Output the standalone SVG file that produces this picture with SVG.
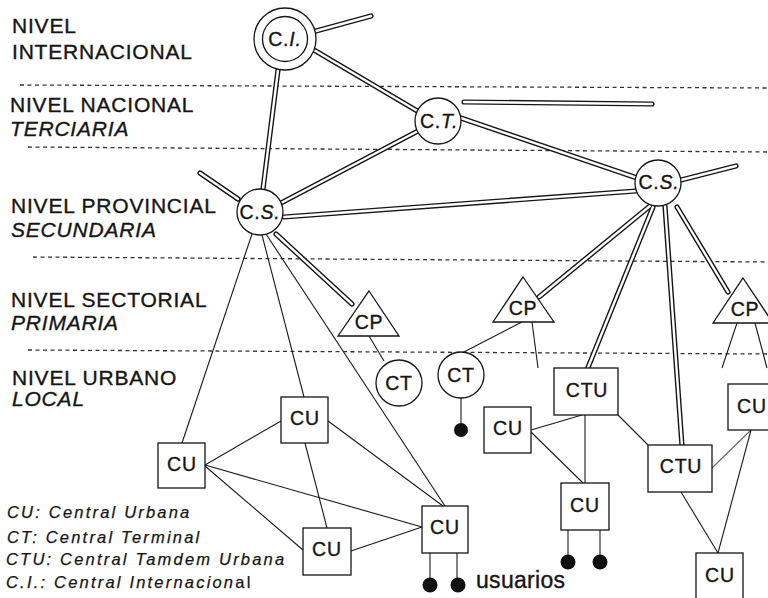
<svg xmlns="http://www.w3.org/2000/svg" xmlns:xlink="http://www.w3.org/1999/xlink" width="768" height="598" viewBox="0 0 768 598">
  <style>
    text { font-family: "Liberation Sans", Arial, sans-serif; fill: #151515; stroke: #151515; stroke-width: 0.35px; }
    .lvl { font-size: 21px; letter-spacing: 0.8px; }
    .it { font-style: italic; }
    .up { font-style: normal; }
    .lbl { font-size: 19.5px; letter-spacing: 0.8px; text-anchor: middle; }
    .leg { font-size: 16.5px; font-style: italic; letter-spacing: 2.2px; stroke-width: 0.25px; }
    .usr { font-size: 23px; letter-spacing: 0.3px; }
    .node { fill: #fff; stroke: #151515; stroke-width: 1.3; }
    .dot { fill: #111; stroke: none; }
    .thin line { stroke: #1a1a1a; stroke-width: 1.1; fill: none; }
    .faint { stroke: #666 !important; }
    .band { stroke: #333; stroke-width: 1.3; stroke-dasharray: 4 3.5; fill: none; }
  </style>
  <defs>
    <!-- trunk routes, stroked twice (dark outline + white core) to give the double-line look -->
    <g id="trunks" fill="none" stroke-linecap="round">
      <line x1="316" y1="31" x2="371" y2="16"/>
      <line x1="314" y1="50" x2="419" y2="112"/>
      <line x1="278" y1="70" x2="263" y2="189"/>
      <line x1="464" y1="102" x2="652" y2="104"/>
      <line x1="455" y1="116" x2="640" y2="179"/>
      <line x1="418" y1="131" x2="281" y2="203"/>
      <line x1="636" y1="191" x2="284" y2="217"/>
      <line x1="681" y1="180" x2="736" y2="166"/>
      <line x1="650" y1="206" x2="539" y2="297"/>
      <line x1="653" y1="207" x2="587" y2="370"/>
      <line x1="665" y1="206" x2="682" y2="446"/>
      <line x1="677" y1="207" x2="728" y2="292"/>
      <line x1="238" y1="199" x2="200" y2="173"/>
      <line x1="276" y1="234" x2="352" y2="304"/>
    </g>
  </defs>

  <rect width="768" height="598" fill="#fff"/>

  <!-- level boundaries -->
  <g id="bands">
    <line class="band" x1="20" y1="85" x2="768" y2="88"/>
    <line class="band" x1="28" y1="147" x2="768" y2="152"/>
    <line class="band" x1="33" y1="257" x2="768" y2="262"/>
    <line class="band" x1="28" y1="350" x2="768" y2="354"/>
  </g>

  <!-- level labels -->
  <g id="levels">
    <text class="lvl" x="12" y="33">NIVEL</text>
    <text class="lvl" x="12" y="59">INTERNACIONAL</text>
    <text class="lvl" x="10" y="112">NIVEL NACIONAL</text>
    <text class="lvl it" x="10" y="136">TERCIARIA</text>
    <text class="lvl" x="11" y="213">NIVEL PROVINCIAL</text>
    <text class="lvl it" x="11" y="237">SECUNDARIA</text>
    <text class="lvl" x="11" y="307">NIVEL SECTORIAL</text>
    <text class="lvl it" x="11" y="330">PRIMARIA</text>
    <text class="lvl" x="12" y="385">NIVEL URBANO</text>
    <text class="lvl it" x="12" y="406">LOCAL</text>
  </g>

  <!-- legend -->
  <g id="legend">
    <text class="leg" x="7" y="518">CU: Central Urbana</text>
    <text class="leg" x="7" y="543">CT: Central Terminal</text>
    <text class="leg" x="6" y="565">CTU: Central Tamdem Urbana</text>
    <text class="leg" x="6" y="588">C.I.: Central Internacion<tspan class="up">al</tspan></text>
  </g>

  <g id="connectors">
    <use xlink:href="#trunks" href="#trunks" stroke="#151515" stroke-width="5.2"/>
    <use xlink:href="#trunks" href="#trunks" stroke="#fff" stroke-width="2.4"/>
    <g class="thin">
      <line x1="252" y1="234" x2="182" y2="443"/>
      <line x1="262" y1="235" x2="304" y2="397"/>
      <line x1="266" y1="234" x2="445" y2="506"/>
      <line x1="205" y1="465" x2="281" y2="421"/>
      <line x1="205" y1="465" x2="422" y2="527"/>
      <line x1="205" y1="466" x2="303" y2="550"/>
      <line x1="328" y1="421" x2="443" y2="506"/>
      <line x1="305" y1="443" x2="327" y2="528"/>
      <line x1="351" y1="551" x2="422" y2="527"/>
      <line x1="430" y1="553" x2="430" y2="585"/>
      <line x1="457" y1="553" x2="457" y2="585"/>
      <line x1="369" y1="336" x2="384" y2="361"/>
      <line x1="522" y1="322" x2="462" y2="353"/>
      <line x1="532" y1="322" x2="538" y2="368"/>
      <line x1="461" y1="398" x2="461" y2="430"/>
      <line x1="582" y1="415" x2="531" y2="430"/>
      <line x1="585" y1="415" x2="585" y2="483"/>
      <line x1="618" y1="415" x2="648" y2="445"/>
      <line x1="531" y1="432" x2="583" y2="483"/>
      <line class="faint" x1="751" y1="430" x2="712" y2="468"/>
      <line x1="751" y1="430" x2="718" y2="553"/>
      <line x1="681" y1="492" x2="718" y2="553"/>
      <line x1="568" y1="530" x2="568" y2="562"/>
      <line x1="600" y1="530" x2="600" y2="562"/>
      <line x1="737" y1="323" x2="722" y2="368"/>
      <line x1="755" y1="323" x2="767" y2="368"/>
    </g>
  </g>

  <!-- international exchange -->
  <g id="ci">
    <circle class="node" cx="285" cy="39" r="31"/>
    <circle class="node" cx="285" cy="39" r="22.5"/>
    <text class="lbl" x="285" y="46">C.<tspan class="it">I.</tspan></text>
  </g>
  <g id="ct-nacional">
    <circle class="node" cx="438" cy="121" r="23"/>
    <text class="lbl" x="439" y="128">C.<tspan class="it">T.</tspan></text>
  </g>
  <g id="cs-right">
    <circle class="node" cx="658" cy="183" r="23"/>
    <text class="lbl" x="659" y="189">C.<tspan class="it">S.</tspan></text>
  </g>
  <g id="cs-left">
    <circle class="node" cx="260" cy="212" r="23"/>
    <text class="lbl" x="260" y="219">C.<tspan class="it">S.</tspan></text>
  </g>

  <!-- sector exchanges -->
  <g id="cp-left">
    <polygon class="node" points="369,291 399,336 338,336"/>
    <text class="lbl" x="369" y="329">CP</text>
  </g>
  <g id="cp-mid">
    <polygon class="node" points="523,277 554,322 493,322"/>
    <text class="lbl" x="523" y="315">CP</text>
  </g>
  <g id="cp-right">
    <polygon class="node" points="743,278 773,323 713,323"/>
    <text class="lbl" x="745" y="316">CP</text>
  </g>

  <!-- terminal exchanges -->
  <g id="ct-left">
    <circle class="node" cx="399" cy="383" r="23"/>
    <text class="lbl" x="399" y="390">CT</text>
  </g>
  <g id="ct-mid">
    <circle class="node" cx="461" cy="375" r="23"/>
    <text class="lbl" x="461" y="382">CT</text>
    <circle class="dot" cx="461" cy="430" r="7"/>
  </g>

  <!-- urban exchanges -->
  <g id="cu-1">
    <rect class="node" x="158" y="443" width="47" height="45"/>
    <text class="lbl" x="182" y="471">CU</text>
  </g>
  <g id="cu-2">
    <rect class="node" x="281" y="397" width="47" height="46"/>
    <text class="lbl" x="305" y="425">CU</text>
  </g>
  <g id="cu-3">
    <rect class="node" x="303" y="528" width="48" height="47"/>
    <text class="lbl" x="327" y="556">CU</text>
  </g>
  <g id="cu-4">
    <rect class="node" x="422" y="506" width="46" height="47"/>
    <text class="lbl" x="445" y="534">CU</text>
    <circle class="dot" cx="430" cy="585" r="7.5"/>
    <circle class="dot" cx="458" cy="585" r="7.5"/>
    <text class="usr" x="476" y="588">usuarios</text>
  </g>
  <g id="cu-5">
    <rect class="node" x="484" y="407" width="47" height="46"/>
    <text class="lbl" x="508" y="435">CU</text>
  </g>
  <g id="ctu-1">
    <rect class="node" x="554" y="368" width="64" height="47"/>
    <text class="lbl" x="587" y="397">CTU</text>
  </g>
  <g id="cu-6">
    <rect class="node" x="561" y="483" width="48" height="47"/>
    <text class="lbl" x="585" y="512">CU</text>
    <circle class="dot" cx="568" cy="562" r="7.5"/>
    <circle class="dot" cx="600" cy="562" r="7.5"/>
  </g>
  <g id="ctu-2">
    <rect class="node" x="648" y="445" width="64" height="47"/>
    <text class="lbl" x="681" y="473">CTU</text>
  </g>
  <g id="cu-7">
    <rect class="node" x="728" y="384" width="48" height="46"/>
    <text class="lbl" x="752" y="413">CU</text>
  </g>
  <g id="cu-8">
    <rect class="node" x="696" y="553" width="47" height="50"/>
    <text class="lbl" x="720" y="582">CU</text>
  </g>
</svg>
